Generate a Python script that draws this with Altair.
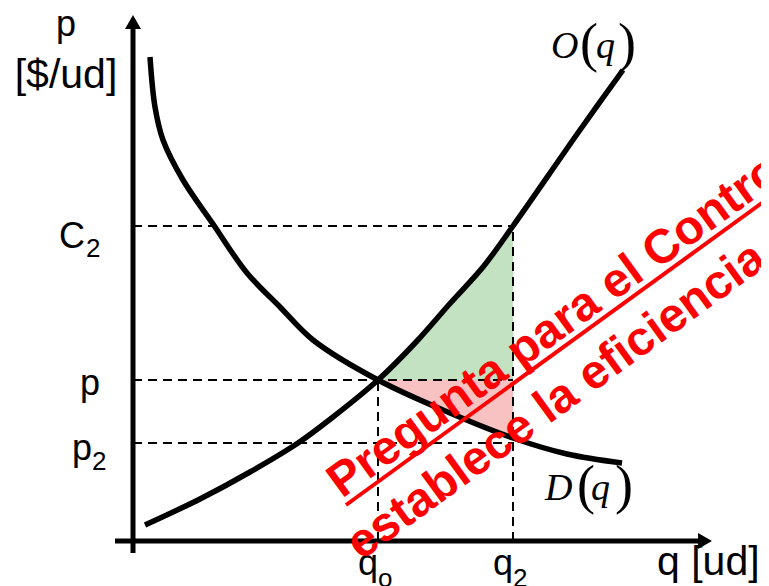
import altair as alt
import pandas as pd

# ---- data (q in units, p in units) ----
sup_q = [0.24, 1.34, 2.34, 3.30, 4.00, 4.90, 5.68, 6.34, 7.00, 7.60, 8.94, 9.80]
sup_p = [0.32, 0.84, 1.38, 1.96, 2.48, 3.22, 4.00, 4.75, 5.48, 6.30, 8.22, 9.42]
dem_q = [0.34, 0.44, 0.60, 1.00, 1.60, 2.28, 2.94, 3.60, 4.90, 6.34, 7.60, 8.68, 9.78]
dem_p = [9.68, 8.68, 8.02, 7.22, 6.34, 5.36, 4.68, 4.02, 3.22, 2.56, 2.06, 1.74, 1.56]

q0, q2 = 4.9, 7.6
p_eq, C2, p2 = 3.22, 6.3, 1.96

seg_qa = [0, 0, 0, q0, q2]
seg_qb = [q2, q2, q2, q0, q2]
seg_pa = [C2, p_eq, p2, 0, 0]
seg_pb = [C2, p_eq, p2, p_eq, C2]

axis_qa = [-0.36, 0.0]
axis_qb = [11.44, 0.0]
axis_pa = [0.0, -0.24]
axis_pb = [0.0, 10.3]

arrow_q = [0.0, 11.44]
arrow_p = [10.38, 0.0]
arrow_shape = ["triangle-up", "triangle-right"]

sans_txt = ["p", "[$/ud]", "C", "p", "p", "q", "q", "q [ud]"]
sans_q = [-1.34, -1.34, -0.96, -0.66, -0.82, 4.9, 7.6, 10.48]
sans_p = [10.1, 9.06, 5.86, 2.92, 1.62, -0.68, -0.68, -0.68]
sans_align = ["center", "center", "right", "right", "right", "right", "right", "left"]
sans_size = [36, 41, 36, 36, 36, 36, 36, 41]

sub_txt = ["2", "2", "o", "2"]
sub_q = [-0.94, -0.82, 4.9, 7.6]
sub_p = [5.68, 1.42, -0.92, -0.92]

# O(q) and D(q): italic letters, upright tall parentheses
fn_txt = ["O", "q", "D", "q"]
fn_q = [8.36, 9.26, 8.24, 9.16]
fn_p = [9.66, 9.66, 0.82, 0.82]
par_txt = ["(", ")", "(", ")"]
par_q = [8.94, 9.70, 8.88, 9.64]
par_p = [9.60, 9.60, 0.76, 0.76]

red_txt = ["Pregunta para el Control", "establece la eficiencia ?"]
red_q = [4.18, 4.56]
red_p = [0.84, -0.40]

ul_qa, ul_pa, ul_qb, ul_pb = [4.26], [0.72], [13.32], [7.30]

# ---- scales ----
xs = alt.Scale(domain=[-2.5, 12.56], nice=False, zero=False)
ys = alt.Scale(domain=[-0.9, 10.66], nice=False, zero=False)

def X(f):
    return alt.X(f, type="quantitative", scale=xs, axis=None)

def Y(f):
    return alt.Y(f, type="quantitative", scale=ys, axis=None)

sup = pd.DataFrame({"q": sup_q, "p": sup_p})
dem = pd.DataFrame({"q": dem_q, "p": dem_p})
segs = pd.DataFrame({"qa": seg_qa, "qb": seg_qb, "pa": seg_pa, "pb": seg_pb})
axes = pd.DataFrame({"qa": axis_qa, "qb": axis_qb, "pa": axis_pa, "pb": axis_pb})
arrows = pd.DataFrame({"q": arrow_q, "p": arrow_p, "s": arrow_shape})
sans = pd.DataFrame({"t": sans_txt, "q": sans_q, "p": sans_p, "a": sans_align, "fs": sans_size})
subs = pd.DataFrame({"t": sub_txt, "q": sub_q, "p": sub_p})
fns = pd.DataFrame({"t": fn_txt, "q": fn_q, "p": fn_p})
pars = pd.DataFrame({"t": par_txt, "q": par_q, "p": par_p})
reds = pd.DataFrame({"t": red_txt, "q": red_q, "p": red_p})
ul = pd.DataFrame({"qa": ul_qa, "qb": ul_qb, "pa": ul_pa, "pb": ul_pb})

inrange = (alt.datum.q >= q0) & (alt.datum.q <= q2)
interp = "catmull-rom"

green = alt.Chart(sup).transform_filter(inrange).mark_area(
    color="#c2e2c2", interpolate=interp).encode(
    x=X("q"), y=Y("p"), y2=alt.datum(p_eq))
red = alt.Chart(dem).transform_filter(inrange).mark_area(
    color="#f8c2c2", interpolate=interp).encode(
    x=X("q"), y=Y("p"), y2=alt.datum(p_eq))

dashed = alt.Chart(segs).mark_rule(
    color="black", strokeWidth=2, strokeDash=[9, 6]).encode(
    x=X("qa"), x2="qb", y=Y("pa"), y2="pb")

sup_line = alt.Chart(sup).mark_line(
    color="black", strokeWidth=5.5, interpolate=interp, strokeCap="butt").encode(
    x=X("q"), y=Y("p"), order="q:Q")
dem_line = alt.Chart(dem).mark_line(
    color="black", strokeWidth=5.5, interpolate=interp, strokeCap="butt").encode(
    x=X("q"), y=Y("p"), order="q:Q")

axis_lines = alt.Chart(axes).mark_rule(color="black", strokeWidth=5).encode(
    x=X("qa"), x2="qb", y=Y("pa"), y2="pb")

arrow_heads = alt.Chart(arrows).mark_point(
    filled=True, color="black", size=256, opacity=1, strokeWidth=0).encode(
    x=X("q"), y=Y("p"),
    shape=alt.Shape("s:N", scale=None, legend=None))

sans_layers = []
for al in ["center", "right", "left"]:
    sans_layers.append(
        alt.Chart(sans).transform_filter(alt.datum.a == al).mark_text(
            font="Liberation Sans", align=al, baseline="alphabetic",
            color="black").encode(x=X("q"), y=Y("p"), text="t:N",
                                  size=alt.Size("fs:Q", scale=None, legend=None)))

sub_layer = alt.Chart(subs).mark_text(
    font="Liberation Sans", fontSize=26, align="left", baseline="alphabetic",
    color="black").encode(x=X("q"), y=Y("p"), text="t:N")

fn_layer = alt.Chart(fns).mark_text(
    font="Liberation Serif", fontSize=38, fontStyle="italic", align="left",
    baseline="alphabetic", color="black").encode(x=X("q"), y=Y("p"), text="t:N")

par_layer = alt.Chart(pars).mark_text(
    font="Liberation Serif", fontSize=54, align="left",
    baseline="alphabetic", color="black").encode(x=X("q"), y=Y("p"), text="t:N")

red_layer = alt.Chart(reds).mark_text(
    font="Liberation Sans", fontSize=48, fontWeight="bold", align="left",
    baseline="alphabetic", angle=324, color="#ff0000", clip=True).encode(
    x=X("q"), y=Y("p"), text="t:N")

ul_layer = alt.Chart(ul).mark_rule(color="#ff0000", strokeWidth=4, clip=True).encode(
    x=X("qa"), x2="qb", y=Y("pa"), y2="pb")

chart = alt.layer(
    green, red, dashed, sup_line, dem_line, axis_lines, arrow_heads,
    *sans_layers, sub_layer, fn_layer, par_layer, red_layer, ul_layer
).properties(
    width=753, height=578, padding=0, autosize=alt.AutoSizeParams(type="none"),
    background="white"
).configure_view(stroke=None)

chart.save("out.html", embed_options={"renderer": "svg", "actions": False})
